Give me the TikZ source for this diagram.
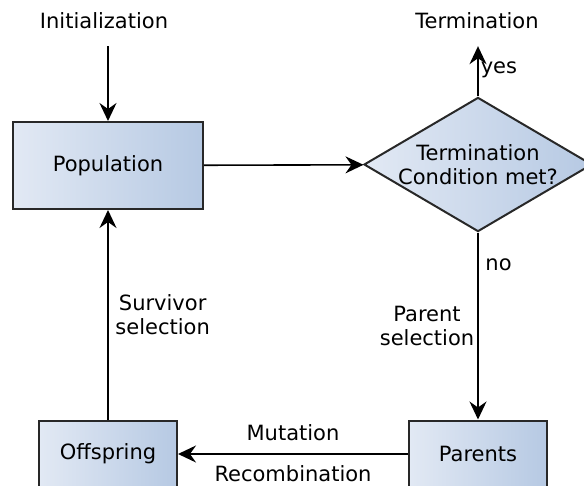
\documentclass[tikz,border=0pt]{standalone}
\usepackage{fontspec}
\setmainfont{DejaVu Sans}
\usetikzlibrary{shapes.geometric,arrows.meta}
\definecolor{boxlight}{RGB}{226,233,244}
\definecolor{boxdark}{RGB}{182,201,227}
\definecolor{edgegray}{RGB}{40,40,40}
\tikzset{
  box/.style={draw=edgegray, line width=1pt, left color=boxlight, right color=boxdark},
  arr/.style={-{Stealth[length=9pt,width=8.5pt,inset=3pt]}, line width=0.8pt},
}
\begin{document}
\begin{tikzpicture}[x=0.5pt,y=-0.5pt,font=\fontsize{10.5}{12}\selectfont]
  \useasboundingbox (0,0) rectangle (584,486);
  \node (init) at (104,21) {Initialization};
  \node (term) at (477,21) {Termination};
  \node[box, minimum width=95pt, minimum height=43.5pt] (pop) at (108,165.5) {Population};
  \node[box, diamond, aspect=1.7, inner sep=0pt, minimum width=113pt, minimum height=66.5pt, align=center] (cond) at (478,164.5) {Termination\\Condition met?};
  \node[box, minimum width=69pt, minimum height=33.5pt] (off) at (108,454) {Offspring};
  \node[box, minimum width=69pt, minimum height=33.5pt] (par) at (478,454) {Parents};

  \draw[arr, shorten <=5pt] (init.south -| pop.north) -- (pop.north);
  \draw[arr] (pop) -- (cond);
  \draw[arr, shorten >=5pt] (cond.north) -- (cond.north |- term.south) node[pos=0.45, right, inner sep=1pt] {yes};
  \draw[arr] (cond) -- (par)
    node[pos=0.17, right] {no}
    node[midway, left, align=center, inner sep=1.5pt] {Parent\\selection};
  \draw[arr] (par) -- (off)
    node[midway, above=3pt] {Mutation}
    node[midway, below=2pt] {Recombination};
  \draw[arr] (off) -- (pop) node[midway, right, align=center] {Survivor\\selection};
\end{tikzpicture}
\end{document}
